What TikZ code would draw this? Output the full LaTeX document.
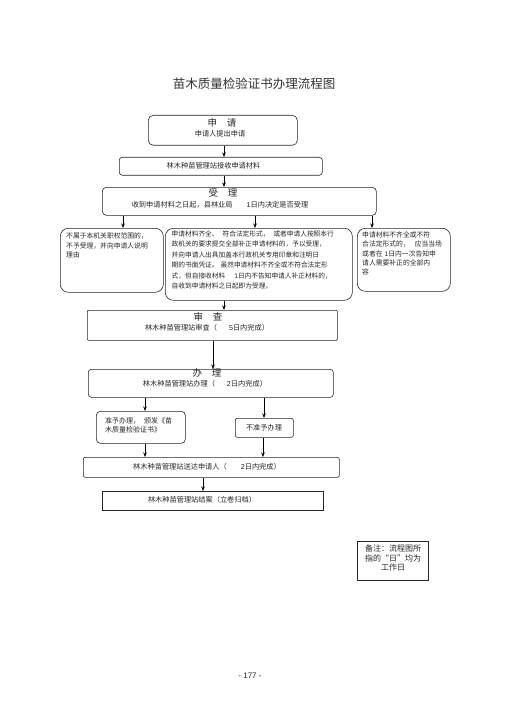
\documentclass[tikz,border=0pt]{standalone}
\usepackage{fontspec}
\setmainfont{Noto Sans CJK SC}
\newfontfamily\lat{Liberation Sans}
\usetikzlibrary{arrows.meta}
\begin{document}
\begin{tikzpicture}[x=1pt,y=-1pt,
 box/.style={draw=black!85, line width=0.6pt, inner sep=0pt, anchor=north west},
 arr/.style={draw=black, line width=0.6pt, -{Stealth[length=4.5pt,width=3.5pt]}},
 ttl/.style={font=\fontsize{9.5}{10}\selectfont, inner sep=0pt, text=black!85},
 sub/.style={font=\fontsize{7.2}{8}\selectfont, inner sep=0pt, text=black!85},
 para/.style={font=\fontsize{6.8}{9.5}\selectfont, inner sep=0pt, anchor=north west, align=left, text=black!85},
]
\path[use as bounding box, fill=white] (0,0) rectangle (505,714);

% title
\node[font=\fontsize{12.5}{13}\selectfont, inner sep=0pt, text=black!80] (title) at (254,84) {苗木质量检验证书办理流程图};

% boxes
\node[box, rounded corners=5pt, minimum width=149pt, minimum height=30pt] (apply) at (148,115) {};
\node[box, rounded corners=3pt, minimum width=203pt, minimum height=18pt] (recv) at (119,157) {};
\node[box, rounded corners=4pt, minimum width=274pt, minimum height=28pt] (accept) at (102,187) {};
\node[box, rounded corners=8pt, minimum width=103pt, minimum height=64pt] (reject) at (60,228) {};
\node[box, rounded corners=8pt, minimum width=187pt, minimum height=72pt] (ok) at (165,228) {};
\node[box, rounded corners=8pt, minimum width=93pt, minimum height=63pt] (supp) at (357,228) {};
\node[box, rounded corners=1pt, minimum width=250pt, minimum height=30pt] (review) at (87,310) {};
\node[box, rounded corners=3pt, minimum width=245pt, minimum height=28pt] (handle) at (88,369) {};
\node[box, rounded corners=4pt, minimum width=89pt, minimum height=32pt] (grant) at (96,411) {};
\node[box, rounded corners=2pt, minimum width=58pt, minimum height=19pt] (deny) at (235,418) {};
\node[box, rounded corners=2pt, minimum width=256pt, minimum height=20pt] (deliver) at (83,457) {};
\node[box, minimum width=221pt, minimum height=19pt] (close) at (102,491) {};
\node[box, minimum width=71pt, minimum height=39pt] (note) at (357,541) {};

% texts
\node[ttl] (t1) at (222,123) {申\hspace{10pt}请};
\node[sub] (s1) at (220,134) {申请人提出申请};
\node[sub] (s2) at (213.5,165.5) {林木种苗管理站接收申请材料};
\node[ttl] (t3) at (223,193) {受\hspace{10pt}理};
\node[sub] (s3) at (220,204.5) {收到申请材料之日起，县林业局\hspace{14pt}{\lat 1}日内决定是否受理};
\node[para] (p4a) at (66,233) {不属于本机关职权范围的，\\不予受理，并向申请人说明\\理由};
\node[para, font=\fontsize{6.7}{10.4}\selectfont] (p4b) at (171.5,230.5) {申请材料齐全、\hspace{4pt}符合法定形式，\hspace{4pt}或者申请人按照本行\\政机关的要求提交全部补正申请材料的，予以受理，\\并向申请人出具加盖本行政机关专用印章和注明日\\期的书面凭证。\hspace{2pt}虽然申请材料不齐全或不符合法定形\\式，但自接收材料\hspace{9pt}{\lat 1}日内不告知申请人补正材料的，\\自收到申请材料之日起即为受理。};
\node[para, font=\fontsize{6.8}{9.3}\selectfont] (p4c) at (362,231.5) {申请材料不齐全或不符\\合法定形式的，\hspace{5pt}应当当场\\或者在\hspace{2pt}{\lat 1}日内一次告知申\\请人需要补正的全部内\\容};
\node[ttl] (t5) at (208,317) {审\hspace{10pt}查};
\node[sub] (s5) at (207,328) {林木种苗管理站审查（\hspace{12pt}{\lat 5}日内完成）};
\node[ttl] (t6) at (207,373) {办\hspace{10pt}理};
\node[sub] (s6) at (205,384) {林木种苗管理站办理（\hspace{12pt}{\lat 2}日内完成）};
\node[para, font=\fontsize{7}{9.2}\selectfont] (p7) at (105,417) {准予办理，\hspace{4pt}颁发《苗\\木质量检验证书》};
\node[sub] (s8) at (264,428) {不准予办理};
\node[sub] (s9) at (207,466.5) {林木种苗管理站送达申请人（\hspace{14pt}{\lat 2}日内完成）};
\node[sub] (s10) at (202,499.5) {林木种苗管理站结案（立卷归档）};
\node[font=\fontsize{8}{9.5}\selectfont, inner sep=0pt, align=center, text=black!85] (nt) at (393,558) {备注：流程图所\\指的“日”均为\\工作日};
\node[font=\lat\fontsize{8}{9}\selectfont, inner sep=0pt, text=black!85] (pg) at (250,676) {- 177 -};

% connectors
\draw[arr] (apply.south -| 224,0) -- (recv.north -| 224,0);
\draw[arr] (recv.south -| 224,0) -- (accept.north -| 224,0);
\draw[arr] (accept.south -| 123,0) -- (reject.north -| 123,0);
\draw[arr] (accept.south -| 255,0) -- (ok.north -| 255,0);
\draw[arr] (accept.south -| 372,0) -- (supp.north -| 372,0);
\draw[arr] (ok.south -| 224,0) -- (review.north -| 224,0);
\draw[arr] (review.south -| 213,0) -- (handle.north -| 213,0);
\draw[arr] (handle.south -| 145,0) -- (grant.north -| 145,0);
\draw[arr] (handle.south -| 264,0) -- (deny.north -| 264,0);
\draw[arr] (grant.south -| 145,0) -- (deliver.north -| 145,0);
\draw[arr] (deny.south -| 263,0) -- (deliver.north -| 263,0);
\draw[arr] (deliver.south -| 203,0) -- (close.north -| 203,0);
\end{tikzpicture}
\end{document}
